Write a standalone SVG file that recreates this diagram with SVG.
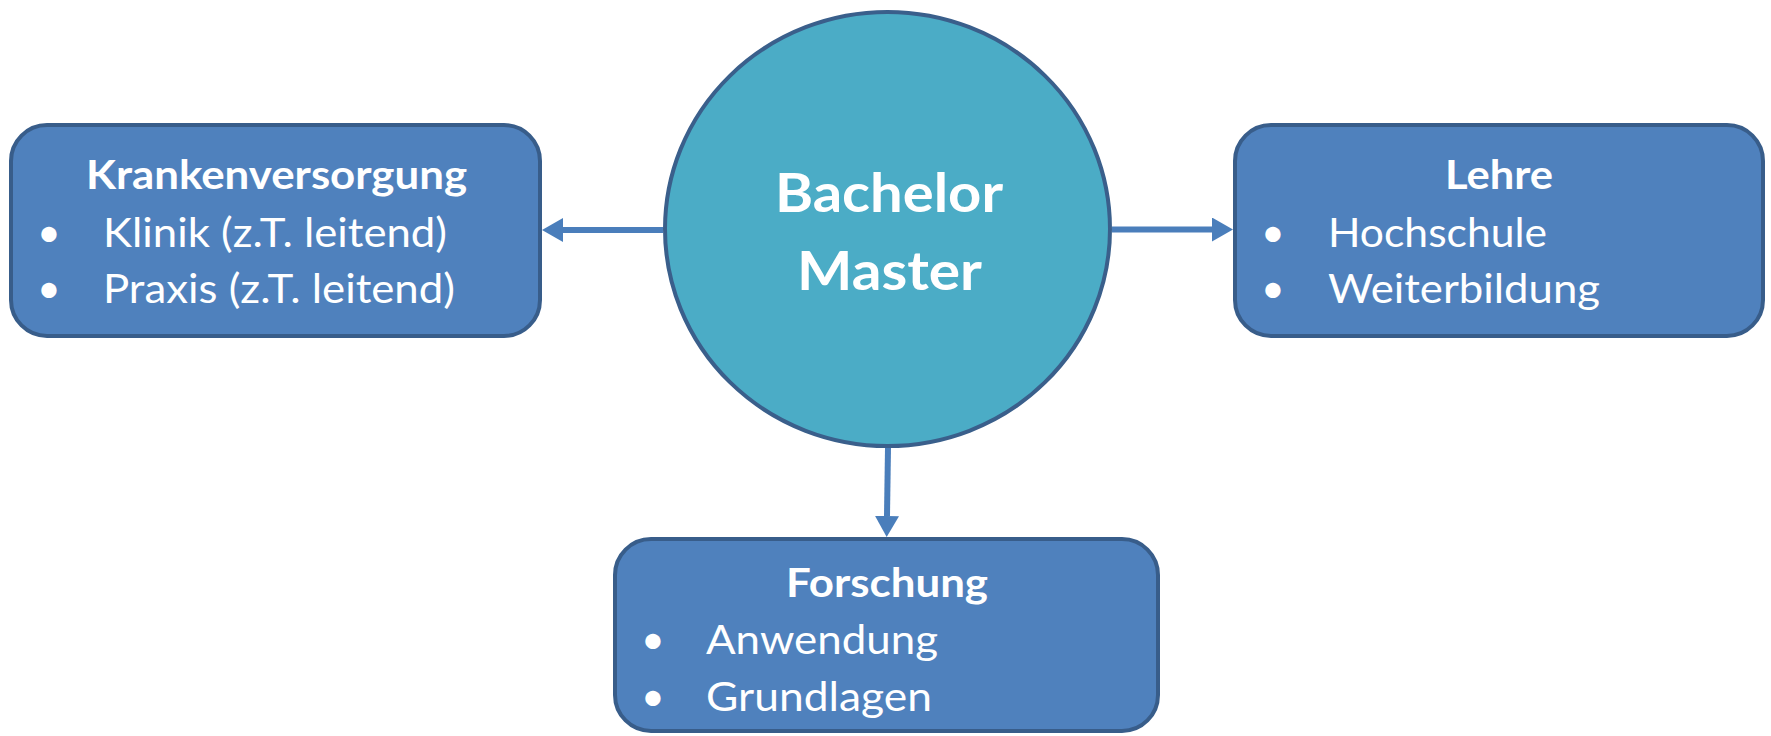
<svg xmlns="http://www.w3.org/2000/svg" width="1771" height="736" viewBox="0 0 1771 736">
<defs>
<style>
.box{fill:#4F81BD;stroke:#385D8A;stroke-width:4}
.hub{fill:#4BACC6;stroke:#3A5F8B;stroke-width:4}
.con{stroke:#4A7EBB;stroke-width:6;fill:none}
text{font-family:Lato,"Open Sans","DejaVu Sans",sans-serif;fill:#FFFFFF}
.t{font-size:41px;font-weight:bold}
.b{font-size:41px}
.dot{font-size:41px;text-anchor:middle}
.hubt{font-size:54px;font-weight:bold}
</style>
<marker id="ah" markerUnits="userSpaceOnUse" markerWidth="22" markerHeight="26" refX="0" refY="12" orient="auto">
<path d="M0,0 L21,12 L0,24 z" fill="#4A7EBB"/>
</marker>
</defs>
<rect width="1771" height="736" fill="#FFFFFF"/>
<g id="connectors">
<line class="con" x1="663" y1="230" x2="563" y2="230" marker-end="url(#ah)"/>
<line class="con" x1="1112" y1="229.5" x2="1212" y2="229.5" marker-end="url(#ah)"/>
<line class="con" x1="888" y1="448" x2="887" y2="516" marker-end="url(#ah)"/>
</g>
<g id="hub">
<ellipse class="hub" cx="887.5" cy="229" rx="222.5" ry="217"/>
<text class="hubt" x="775" y="212" textLength="228" lengthAdjust="spacingAndGlyphs">Bachelor</text>
<text class="hubt" x="797" y="290" textLength="185" lengthAdjust="spacingAndGlyphs">Master</text>
</g>
<g id="krankenversorgung">
<rect class="box" x="11" y="125" width="529" height="211" rx="36"/>
<text class="t" x="86" y="189" textLength="381" lengthAdjust="spacingAndGlyphs">Krankenversorgung</text>
<text class="dot" x="49" y="247">•</text>
<text class="b" x="103" y="247" textLength="344" lengthAdjust="spacingAndGlyphs">Klinik (z.T. leitend)</text>
<text class="dot" x="49" y="303">•</text>
<text class="b" x="103" y="303" textLength="352" lengthAdjust="spacingAndGlyphs">Praxis (z.T. leitend)</text>
</g>
<g id="lehre">
<rect class="box" x="1235" y="125" width="528" height="211" rx="36"/>
<text class="t" x="1445" y="189" textLength="108" lengthAdjust="spacingAndGlyphs">Lehre</text>
<text class="dot" x="1273" y="247">•</text>
<text class="b" x="1328" y="247" textLength="219" lengthAdjust="spacingAndGlyphs">Hochschule</text>
<text class="dot" x="1273" y="303">•</text>
<text class="b" x="1328" y="303" textLength="272" lengthAdjust="spacingAndGlyphs">Weiterbildung</text>
</g>
<g id="forschung">
<rect class="box" x="615" y="539" width="543" height="192" rx="36"/>
<text class="t" x="786" y="597" textLength="202" lengthAdjust="spacingAndGlyphs">Forschung</text>
<text class="dot" x="653" y="654">•</text>
<text class="b" x="706" y="654" textLength="232" lengthAdjust="spacingAndGlyphs">Anwendung</text>
<text class="dot" x="653" y="711">•</text>
<text class="b" x="706" y="711" textLength="226" lengthAdjust="spacingAndGlyphs">Grundlagen</text>
</g>
</svg>
